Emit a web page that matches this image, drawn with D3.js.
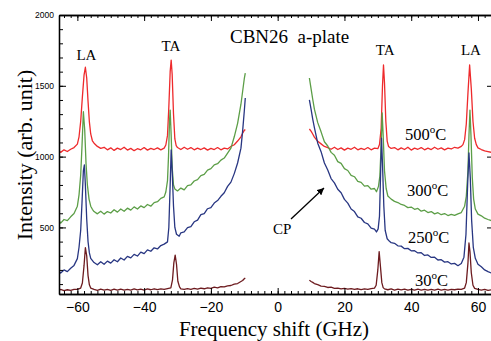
<!DOCTYPE html>
<html><head><meta charset="utf-8">
<script src="https://cdn.jsdelivr.net/npm/d3@7"></script>
<style>body{margin:0;background:#fff} svg{display:block}</style>
</head><body><svg id="c" width="491" height="341"></svg>
<script>
// ---------- data (frequency shift GHz, intensity arb. unit) ----------
const xTicksMajor = [-60, -40, -20, 0, 20, 40, 60];
const yTicksMajor = [500, 1000, 1500, 2000];
const seriesNames = ["500°C", "300°C", "250°C", "30°C"];

const red500L = [[-65.5,1042],[-65,1030],[-64,1048],[-63,1036],[-62,1052],[-61,1064],[-60,1088],[-59.5,1140],[-59,1250],[-58.5,1420],[-58,1575],[-57.6,1631],[-57.2,1555],[-56.8,1390],[-56.4,1245],[-56,1160],[-55.5,1112],[-55,1095],[-54,1072],[-53,1058],[-52,1066],[-51,1048],[-50,1062],[-49,1044],[-48,1060],[-47,1050],[-46,1066],[-45,1046],[-44,1058],[-43,1042],[-42,1056],[-41,1048],[-40,1064],[-39,1046],[-38,1058],[-37,1050],[-36,1062],[-35,1048],[-34,1060],[-33.5,1082],[-33,1150],[-32.6,1350],[-32.2,1600],[-31.9,1682],[-31.6,1580],[-31.2,1300],[-30.8,1125],[-30.4,1078],[-30,1064],[-29,1050],[-28,1066],[-27,1052],[-26,1064],[-25,1048],[-24,1060],[-23,1050],[-22,1062],[-21,1046],[-20,1058],[-19,1050],[-18,1064],[-17,1048],[-16,1060],[-15,1054],[-14,1072],[-13,1084],[-12,1110],[-11,1140],[-10.5,1165],[-10,1185],[-9.7,1192]];
const red500R = [[9.5,1195],[10,1180],[10.5,1160],[11,1138],[12,1108],[13,1090],[14,1072],[15,1064],[16,1052],[17,1066],[18,1050],[19,1062],[20,1046],[21,1060],[22,1052],[23,1066],[24,1048],[25,1058],[26,1050],[27,1064],[28,1048],[29,1060],[30,1056],[30.5,1085],[31,1200],[31.4,1500],[31.7,1647],[32,1520],[32.4,1250],[32.8,1110],[33.2,1072],[34,1058],[35,1064],[36,1048],[37,1062],[38,1050],[39,1066],[40,1046],[41,1060],[42,1052],[43,1064],[44,1048],[45,1060],[46,1050],[47,1066],[48,1052],[49,1062],[50,1048],[51,1060],[52,1054],[53,1066],[54,1060],[55,1072],[55.5,1085],[56,1120],[56.5,1230],[57,1450],[57.5,1647],[58,1480],[58.5,1250],[59,1130],[59.5,1085],[60,1062],[61,1050],[62,1040],[63,1036],[64,1030]];

const green300L = [[-65.5,548],[-65,530],[-64,556],[-63,548],[-62,575],[-61,598],[-60,650],[-59.5,730],[-59,870],[-58.6,1080],[-58.2,1317],[-57.8,1190],[-57.4,950],[-57,800],[-56.5,700],[-56,650],[-55.5,628],[-55,612],[-54,596],[-53,614],[-52,594],[-51,612],[-50,602],[-49,625],[-48,608],[-47,630],[-46,614],[-45,636],[-44,622],[-43,645],[-42,630],[-41,652],[-40,640],[-39,662],[-38,650],[-37,675],[-36,682],[-35,705],[-34,716],[-33.5,750],[-33,830],[-32.7,1000],[-32.4,1250],[-32.2,1329],[-31.9,1150],[-31.6,925],[-31.2,800],[-30.8,772],[-30,758],[-29,778],[-28,765],[-27,795],[-26,800],[-25,828],[-24,838],[-23,866],[-22,875],[-21,905],[-20,915],[-19,942],[-18,950],[-17,975],[-16,990],[-15,1025],[-14,1060],[-13,1140],[-12,1235],[-11,1370],[-10.5,1460],[-10,1550],[-9.7,1590]];
const green300R = [[9.5,1555],[10,1480],[10.5,1405],[11,1335],[12,1240],[13,1175],[14,1105],[15,1075],[16,1030],[17,1010],[18,965],[19,952],[20,915],[21,902],[22,868],[23,858],[24,826],[25,818],[26,792],[27,795],[28,770],[29,775],[29.6,752],[30.2,790],[30.6,860],[31,1080],[31.3,1308],[31.6,1150],[32,900],[32.5,775],[33,722],[34,700],[35,684],[36,676],[37,662],[38,655],[39,640],[40,644],[41,628],[42,634],[43,615],[44,622],[45,605],[46,612],[47,596],[48,604],[49,590],[50,598],[51,584],[52,592],[53,585],[54,596],[55,605],[56,650],[56.5,720],[57,900],[57.3,1150],[57.6,1329],[57.9,1150],[58.3,850],[58.7,700],[59.2,630],[60,594],[61,582],[62,565],[63,556],[64,548]];

const blue250L = [[-65.5,192],[-65,178],[-64,200],[-63,188],[-62,212],[-61,232],[-60,280],[-59.5,360],[-59,480],[-58.6,680],[-58.2,900],[-57.9,941],[-57.6,800],[-57.2,560],[-56.8,400],[-56.4,320],[-56,282],[-55,252],[-54,236],[-53,258],[-52,240],[-51,262],[-50,248],[-49,272],[-48,258],[-47,284],[-46,270],[-45,296],[-44,285],[-43,310],[-42,298],[-41,326],[-40,315],[-39,342],[-38,332],[-37,356],[-36,348],[-35,372],[-34,382],[-33,398],[-32.6,500],[-32.2,800],[-31.9,1047],[-31.6,900],[-31.2,650],[-30.8,500],[-30.3,452],[-29.5,438],[-29,462],[-28,468],[-27,498],[-26,505],[-25,540],[-24,552],[-23,590],[-22,598],[-21,632],[-20,640],[-19,672],[-18,690],[-17,720],[-16,745],[-15,790],[-14,820],[-13,880],[-12,955],[-11,1060],[-10.5,1180],[-10,1320],[-9.7,1414]];
const blue250R = [[9.5,1400],[10,1335],[10.5,1265],[11,1205],[12,1095],[13,1035],[14,955],[15,905],[16,845],[17,815],[18,770],[19,745],[20,698],[21,672],[22,630],[23,612],[24,575],[25,565],[26,535],[27,525],[28,495],[29,488],[29.6,468],[30.1,490],[30.5,580],[30.8,850],[31.1,1131],[31.4,950],[31.8,650],[32.2,480],[32.8,420],[33.5,402],[34,392],[35,388],[36,370],[37,368],[38,350],[39,352],[40,335],[41,336],[42,320],[43,322],[44,302],[45,306],[46,288],[47,290],[48,270],[49,272],[50,255],[51,258],[52,242],[53,246],[54,230],[55,245],[55.8,290],[56.4,450],[56.9,800],[57.3,1026],[57.7,850],[58.1,550],[58.6,360],[59.2,282],[60,240],[61,222],[62,200],[63,188],[64,178]];

const maroon30L = [[-65.5,56],[-65,62],[-64,54],[-63,60],[-62,55],[-61,63],[-60,62],[-59,72],[-58.5,108],[-58,230],[-57.6,357],[-57.2,300],[-56.8,160],[-56.4,95],[-56,72],[-55,62],[-54,56],[-53,64],[-52,57],[-51,63],[-50,56],[-49,64],[-48,58],[-47,65],[-46,57],[-45,63],[-44,58],[-43,66],[-42,59],[-41,64],[-40,58],[-39,66],[-38,60],[-37,67],[-36,61],[-35,66],[-34,62],[-33,68],[-32,74],[-31.5,130],[-31.1,250],[-30.7,305],[-30.3,240],[-29.9,120],[-29.4,80],[-29,66],[-28,62],[-27,68],[-26,63],[-25,70],[-24,64],[-23,72],[-22,67],[-21,74],[-20,70],[-19,78],[-18,74],[-17,82],[-16,80],[-15,88],[-14,90],[-13,100],[-12,104],[-11,118],[-10.5,125],[-10,138],[-9.7,143]];
const maroon30R = [[9.5,128],[10,118],[10.5,112],[11,104],[12,96],[13,86],[14,84],[15,76],[16,78],[17,70],[18,72],[19,66],[20,70],[21,64],[22,68],[23,62],[24,67],[25,61],[26,66],[27,62],[28,68],[29,72],[29.5,92],[30,200],[30.4,329],[30.8,220],[31.2,110],[31.6,75],[32,66],[33,60],[34,66],[35,58],[36,64],[37,59],[38,65],[39,58],[40,63],[41,57],[42,64],[43,58],[44,63],[45,57],[46,62],[47,58],[48,64],[49,57],[50,62],[51,58],[52,63],[53,60],[54,64],[55,63],[56,72],[56.5,110],[57,250],[57.3,390],[57.6,330],[58,180],[58.5,92],[59,70],[60,62],[61,58],[62,63],[63,56],[64,60]];

// ---------- layout / style ----------
const colors = {"500°C":"#ee2a2c","300°C":"#5c9e47","250°C":"#283682","30°C":"#6d1b1f"};
const segments = [
  {name:"500°C", data:red500L},{name:"500°C", data:red500R},
  {name:"300°C", data:green300L},{name:"300°C", data:green300R},
  {name:"250°C", data:blue250L},{name:"250°C", data:blue250R},
  {name:"30°C", data:maroon30L},{name:"30°C", data:maroon30R}
];
const L = 59, R = 493, T = 15, B = 294;
const x = d3.scaleLinear().domain([-65.5, 64.5]).range([L, R]);
const y = d3.scaleLinear().domain([30, 2000]).range([B, T]);

const svg = d3.select("#c");
svg.append("defs").append("clipPath").attr("id","clip")
  .append("rect").attr("x",L).attr("y",T).attr("width",R-L).attr("height",B-T);
svg.select("defs").append("marker").attr("id","arr").attr("viewBox","0 0 10 10")
  .attr("refX",10).attr("refY",5).attr("markerWidth",7).attr("markerHeight",7)
  .attr("markerUnits","userSpaceOnUse").attr("orient","auto")
  .append("path").attr("d","M0,0L10,5L0,10z").attr("fill","#000");

const line = d3.line().x(d => x(d[0])).y(d => y(d[1]));
const gLines = svg.append("g").attr("clip-path","url(#clip)");
gLines.selectAll("path").data(segments).join("path")
  .attr("d", d => line(d.data)).attr("fill","none")
  .attr("stroke", d => colors[d.name]).attr("stroke-width",1.3)
  .attr("stroke-linejoin","round");

// ---------- axes ----------
const sans = "'Liberation Sans', Arial, sans-serif";
const serif = "'Liberation Serif', 'Times New Roman', serif";
function style(g){ g.select(".domain").attr("stroke","#000").attr("stroke-width",1.3);
  g.selectAll(".tick line").attr("stroke","#000").attr("stroke-width",1); }

const minorX = d3.range(-64, 65, 2);
svg.append("g").attr("transform",`translate(0,${B})`)
  .call(d3.axisBottom(x).tickValues(minorX).tickSizeInner(-3).tickSizeOuter(0).tickFormat(""))
  .call(style);
svg.append("g").attr("transform",`translate(0,${B})`)
  .call(d3.axisBottom(x).tickValues(xTicksMajor).tickSizeInner(-6).tickSizeOuter(0).tickPadding(8))
  .call(style)
  .call(g => g.selectAll("text").attr("font-family",sans).attr("font-size",14).attr("fill","#000"));
svg.append("g").attr("transform",`translate(0,${T})`)
  .call(d3.axisTop(x).tickValues(minorX).tickSizeInner(-3).tickSizeOuter(0).tickFormat(""))
  .call(style);
svg.append("g").attr("transform",`translate(0,${T})`)
  .call(d3.axisTop(x).tickValues(xTicksMajor).tickSizeInner(-6).tickSizeOuter(0).tickFormat(""))
  .call(style);

const minorY = d3.range(100, 2000, 100);
svg.append("g").attr("transform",`translate(${L},0)`)
  .call(d3.axisLeft(y).tickValues(minorY).tickSizeInner(-4).tickSizeOuter(0).tickFormat(""))
  .call(style);
svg.append("g").attr("transform",`translate(${L},0)`)
  .call(d3.axisLeft(y).tickValues(yTicksMajor).tickSizeInner(-7).tickSizeOuter(0).tickPadding(5).tickFormat(d3.format("d")))
  .call(style)
  .call(g => g.selectAll("text").attr("font-family",sans).attr("font-size",8.5).attr("fill","#000"));
svg.append("g").attr("transform",`translate(${R},0)`)
  .call(d3.axisRight(y).tickValues(yTicksMajor).tickSizeInner(-6).tickSizeOuter(0).tickFormat(""))
  .call(style);

// ---------- titles & annotations ----------
svg.append("text").attr("x",(L+R)/2 - 2).attr("y",336).attr("text-anchor","middle")
  .attr("font-family",serif).attr("font-size",21).text("Frequency shift (GHz)");
svg.append("text").attr("transform","translate(32,155) rotate(-90)").attr("text-anchor","middle")
  .attr("font-family",serif).attr("font-size",22).text("Intensity (arb. unit)");
svg.append("text").attr("x",230).attr("y",43).attr("font-family",serif).attr("font-size",19)
  .style("white-space","pre").text("CBN26  a-plate");

const peakLabels = [["LA",-57.3,60],["TA",-32.0,51],["TA",32.2,55],["LA",57.9,55]];
svg.selectAll(".pk").data(peakLabels).join("text").attr("class","pk")
  .attr("x", d => x(d[1])).attr("y", d => d[2]).attr("text-anchor","middle")
  .attr("font-family",serif).attr("font-size",15).text(d => d[0]);

const tempPos = [[405,139.5],[407,196],[408,242.5],[415,285.5]];
seriesNames.forEach((n,i) => {
  const t = svg.append("text").attr("x",tempPos[i][0]).attr("y",tempPos[i][1])
    .attr("font-family",serif).attr("font-size",16.5);
  t.append("tspan").text(n.replace("°C",""));
  t.append("tspan").attr("font-size",11).attr("dy",-7).text("o");
  t.append("tspan").attr("dy",7).text("C");
});

svg.append("text").attr("x",273).attr("y",234).attr("font-family",serif).attr("font-size",15).text("CP");
svg.append("line").attr("x1",291).attr("y1",219).attr("x2",324).attr("y2",188)
  .attr("stroke","#000").attr("stroke-width",1.3).attr("marker-end","url(#arr)");
</script></body></html>
